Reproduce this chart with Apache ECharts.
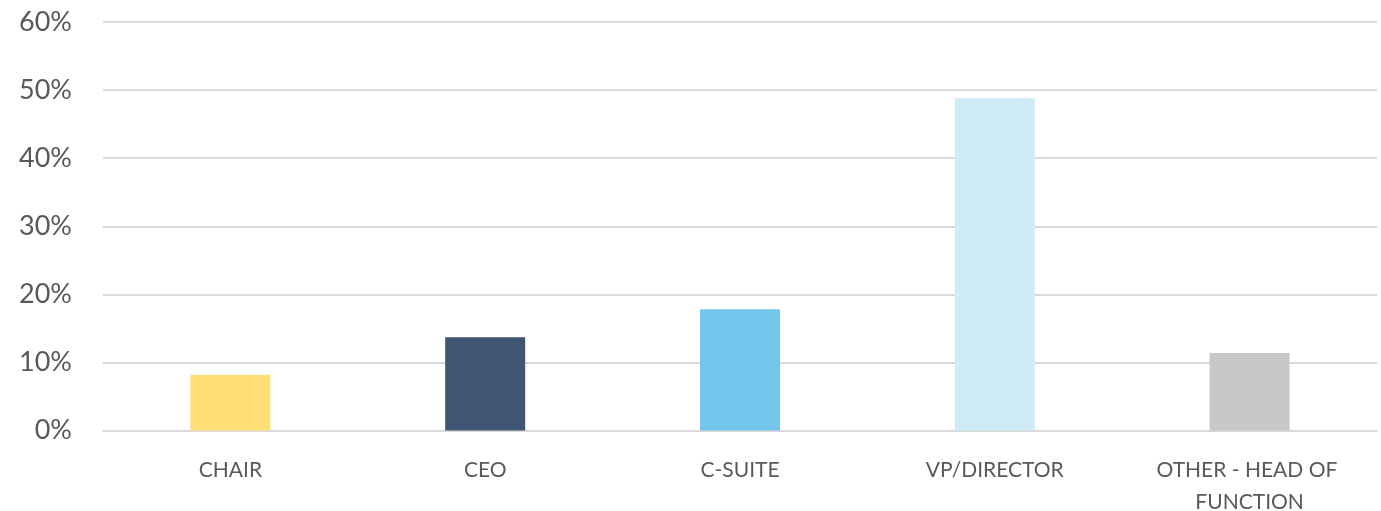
<!DOCTYPE html>
<html>
<head>
<meta charset="utf-8">
<script src="https://cdn.jsdelivr.net/npm/echarts@6/dist/echarts.min.js"></script>
<style>
  html, body { margin: 0; padding: 0; background: #fff; }
  #chart { width: 1381px; height: 511px; }
</style>
</head>
<body>
<div id="chart"></div>
<script>
// categories and values (percent)
const categories = ["CHAIR", "CEO", "C-SUITE", "VP/DIRECTOR", "OTHER - HEAD OF FUNCTION"];
const values = [8.2, 13.7, 17.8, 48.8, 11.4];
const barColors = ["#FFDE75", "#3F5573", "#73C6EC", "#CFEBF7", "#C8C8C8"];

let myChart = echarts.init(document.getElementById("chart"));
let option = {
  animation: false,
  grid: {
    left: 103,
    right: 4,
    top: 22,
    bottom: 80.5,
    containLabel: false,
    outerBoundsMode: "none"
  },
  xAxis: {
    type: "category",
    data: categories,
    axisTick: { show: false },
    axisLine: { lineStyle: { color: "#D9D9D9", width: 2 } },
    axisLabel: {
      color: "#595959",
      fontFamily: "Lato",
      fontSize: 21,
      margin: 24,
      lineHeight: 32,
      width: 210,
      overflow: "break",
      interval: 0
    }
  },
  yAxis: {
    type: "value",
    min: 0,
    max: 60,
    interval: 10,
    axisLine: { show: false },
    axisTick: { show: false },
    axisLabel: {
      color: "#595959",
      fontFamily: "Lato",
      fontSize: 27,
      margin: 31,
      formatter: "{value}%"
    },
    splitLine: { lineStyle: { color: "#D9D9D9", width: 2 } }
  },
  series: [
    {
      type: "bar",
      barWidth: "31.4%",
      data: values.map((v, i) => ({ value: v, itemStyle: { color: barColors[i] } }))
    }
  ]
};
myChart.setOption(option);
window.addEventListener("resize", () => {
  myChart.resize();
});
</script>
</body>
</html>
